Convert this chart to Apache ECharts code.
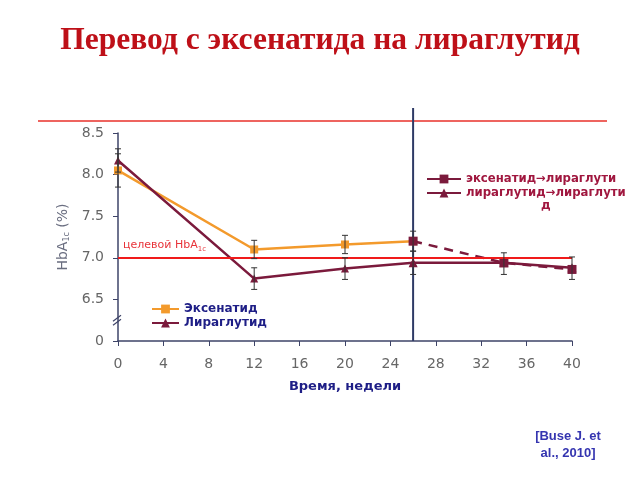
<!DOCTYPE html>
<html>
<head>
<meta charset="utf-8">
<script src="https://cdn.jsdelivr.net/npm/echarts@6/dist/echarts.min.js"></script>
<style>
  html, body { margin: 0; padding: 0; background: #fff; }
  #chart { width: 640px; height: 480px; }
</style>
</head>
<body>
<div id="chart"></div>
<script>
// weeks and HbA1c values (%)
const exWeeks = [0, 12, 20, 26]
const exValues = [8.05, 7.10, 7.16, 7.20]
const liraWeeks = [0, 12, 20, 26]
const liraValues = [8.17, 6.75, 6.87, 6.94]
const exLiraWeeks = [26, 34, 40]
const exLiraValues = [7.20, 6.94, 6.86]
const liraLiraWeeks = [26, 34, 40]
const liraLiraValues = [6.94, 6.94, 6.88]

// error bars
const errWeeks = [0, 0, 12, 12, 20, 20, 26, 26, 34, 40]
const errLow = [7.85, 8.03, 6.99, 6.62, 7.05, 6.74, 7.08, 6.80, 6.80, 6.74]
const errHigh = [8.25, 8.31, 7.21, 6.88, 7.27, 7.00, 7.32, 7.08, 7.06, 7.01]

const targetValue = 7.0
const switchWeek = 26
const xTicks = { min: 0, max: 40, step: 4 }
const yTicks = { min: 6, max: 8.5, step: 0.5 }   // 6 is shown as the broken "0"

const orange = '#F39A2C'
const maroon = '#7B1A3C'
const navy = '#1E1E86'
const font = 'DejaVu Sans'

const zip = (xs, ys) => xs.map((x, i) => [x, ys[i]])

const myChart = echarts.init(document.getElementById('chart'))

const option = {
  backgroundColor: '#fff',
  animation: false,
  title: [
    {
      text: 'Перевод с эксенатида на лираглутид',
      left: 'center',
      top: 20,
      textStyle: { fontFamily: 'Liberation Serif', fontWeight: 'bold', fontSize: 31.5, color: '#BE1018' }
    },
    {
      text: '[Buse J. et\nal., 2010]',
      left: 563,
      top: 423,
      textAlign: 'center',
      textStyle: { fontFamily: 'Liberation Sans', fontWeight: 'bold', fontSize: 13, lineHeight: 17, color: '#3535B0', align: 'center' }
    }
  ],
  grid: { left: 118, right: 68, top: 133, bottom: 139 },
  legend: [
    {
      data: ['Эксенатид', 'Лираглутид'],
      orient: 'vertical',
      left: 146,
      top: 298,
      itemWidth: 27,
      itemHeight: 11,
      itemGap: 2,
      textStyle: { fontFamily: font, fontWeight: 'bold', fontSize: 12, color: navy }
    },
    {
      data: ['эксенатид→лираглутид', 'лираглутид→лираглутид'],
      orient: 'vertical',
      left: 421,
      top: 168,
      itemWidth: 34,
      itemHeight: 11,
      itemGap: 2,
      lineStyle: { type: 'solid' },
      formatter: name => (name === 'эксенатид→лираглутид' ? 'эксенатид→лираглути' : 'лираглутид→лираглути'),
      textStyle: { fontFamily: font, fontWeight: 'bold', fontSize: 11.7, color: '#A0173F' }
    }
  ],
  xAxis: {
    type: 'value',
    min: xTicks.min,
    max: xTicks.max,
    interval: xTicks.step,
    name: 'Время, недели',
    nameLocation: 'middle',
    nameGap: 39,
    nameTextStyle: { fontFamily: font, fontWeight: 'bold', fontSize: 13, color: navy },
    splitLine: { show: false },
    axisLine: { lineStyle: { color: '#3E4468', width: 1.5 } },
    axisTick: { length: 5, lineStyle: { color: '#3E4468' } },
    axisLabel: { fontFamily: font, fontSize: 14, color: '#666', margin: 16 }
  },
  yAxis: {
    type: 'value',
    min: yTicks.min,
    max: yTicks.max,
    interval: yTicks.step,
    name: 'HbA{sub|1c} (%)',
    nameLocation: 'middle',
    nameGap: 45,
    nameTextStyle: {
      fontFamily: font, fontSize: 14, color: '#6A6E80',
      rich: { sub: { fontFamily: font, fontSize: 8, color: '#6A6E80', verticalAlign: 'bottom', padding: [7, 0, 0, 0] } }
    },
    splitLine: { show: false },
    axisLine: { show: true, lineStyle: { color: '#3E4468', width: 1.5 } },
    axisTick: { show: true, length: 5, lineStyle: { color: '#3E4468' } },
    axisLabel: {
      fontFamily: font,
      fontSize: 14,
      margin: 14,
      color: v => (v === yTicks.min ? '#3535B0' : '#666'),
      formatter: v => (v === yTicks.min ? '0' : v.toFixed(1))
    }
  },
  series: [
    {
      name: 'Эксенатид',
      type: 'line',
      data: zip(exWeeks, exValues),
      symbol: 'rect',
      symbolSize: 8,
      lineStyle: { color: orange, width: 2.5 },
      itemStyle: { color: orange },
      z: 3,
      markLine: {
        silent: true,
        symbol: 'none',
        lineStyle: { color: '#F01A1A', width: 1.8, type: 'solid' },
        label: {
          position: 'insideStartTop',
          formatter: 'целевой HbA{s|1c}',
          fontFamily: font,
          fontSize: 11,
          color: '#E8343A',
          rich: { s: { fontSize: 7, color: '#E8343A', verticalAlign: 'bottom', padding: [8, 0, 0, 0] } }
        },
        data: [{ yAxis: targetValue }]
      }
    },
    {
      name: 'Лираглутид',
      type: 'line',
      data: zip(liraWeeks, liraValues),
      symbol: 'triangle',
      symbolSize: 8,
      lineStyle: { color: maroon, width: 2.5 },
      itemStyle: { color: maroon },
      z: 3
    },
    {
      name: 'эксенатид→лираглутид',
      type: 'line',
      data: zip(exLiraWeeks, exLiraValues),
      symbol: 'rect',
      symbolSize: 9,
      lineStyle: { color: maroon, width: 2.5, type: [9, 7] },
      itemStyle: { color: maroon },
      z: 4
    },
    {
      name: 'лираглутид→лираглутид',
      type: 'line',
      data: zip(liraLiraWeeks, liraLiraValues),
      symbol: 'triangle',
      symbolSize: 9,
      lineStyle: { color: maroon, width: 2.5 },
      itemStyle: { color: maroon },
      z: 4
    },
    {
      name: 'errors',
      type: 'custom',
      data: errWeeks.map((w, i) => [w, errLow[i], errHigh[i]]),
      z: 5,
      renderItem: (params, api) => {
        const lo = api.coord([api.value(0), api.value(1)])
        const hi = api.coord([api.value(0), api.value(2)])
        const style = { stroke: '#333', lineWidth: 1 }
        const cap = 3
        return {
          type: 'group',
          children: [
            { type: 'line', shape: { x1: lo[0], y1: lo[1], x2: hi[0], y2: hi[1] }, style },
            { type: 'line', shape: { x1: lo[0] - cap, y1: lo[1], x2: lo[0] + cap, y2: lo[1] }, style },
            { type: 'line', shape: { x1: hi[0] - cap, y1: hi[1], x2: hi[0] + cap, y2: hi[1] }, style }
          ]
        }
      }
    }
  ]
}

myChart.setOption(option)

// decorations placed from axis coordinates
const pSwitchBottom = myChart.convertToPixel({ gridIndex: 0 }, [switchWeek, yTicks.min])
const pBreak = myChart.convertToPixel({ gridIndex: 0 }, [0, 6.25])
myChart.setOption({
  graphic: [
    { type: 'line', shape: { x1: 38, y1: 121, x2: 607, y2: 121 }, style: { stroke: '#E8302A', lineWidth: 1.5 }, z: 1 },
    { type: 'line', shape: { x1: pSwitchBottom[0], y1: 108, x2: pSwitchBottom[0], y2: pSwitchBottom[1] }, style: { stroke: '#2E3A66', lineWidth: 2 }, z: 2 },
    { type: 'line', shape: { x1: pBreak[0] - 5, y1: pBreak[1] + 1, x2: pBreak[0] + 3, y2: pBreak[1] - 5 }, style: { stroke: '#3E4468', lineWidth: 1.2 }, z: 10 },
    { type: 'line', shape: { x1: pBreak[0] - 5, y1: pBreak[1] + 5, x2: pBreak[0] + 3, y2: pBreak[1] - 1 }, style: { stroke: '#3E4468', lineWidth: 1.2 }, z: 10 },
    // wrapped last letter of the second legend entry
    { type: 'text', left: 541, top: 200, style: { text: 'д', fontFamily: font, fontWeight: 'bold', fontSize: 12, fill: '#A0173F' }, z: 10 }
  ]
})
</script>
</body>
</html>
